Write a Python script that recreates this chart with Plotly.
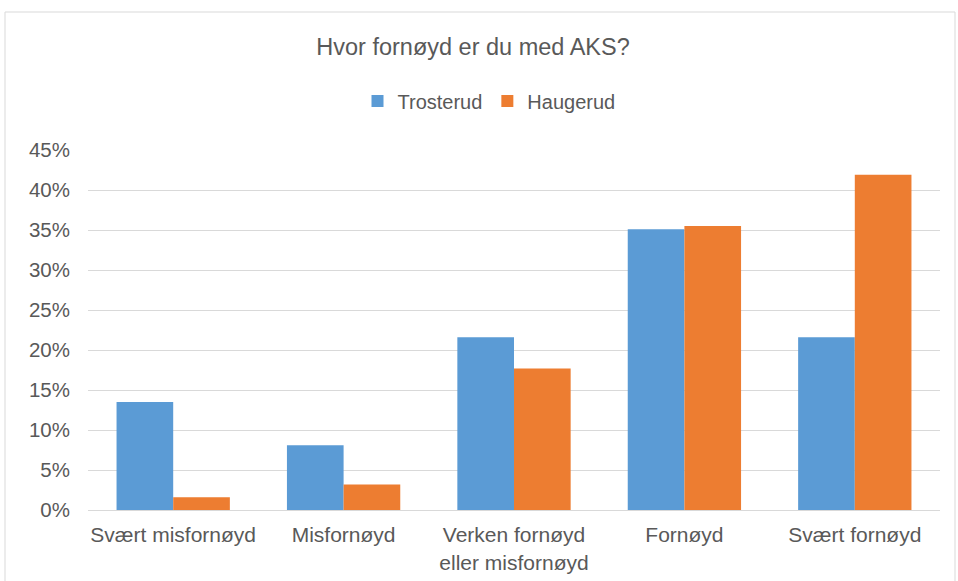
import plotly.graph_objects as go

categories = ["Svært misfornøyd", "Misfornøyd", "Verken fornøyd<br>eller misfornøyd", "Fornøyd", "Svært fornøyd"]
trosterud = [0.135, 0.081, 0.216, 0.351, 0.216]
haugerud = [0.016, 0.032, 0.177, 0.355, 0.419]
series_names = ["Trosterud", "Haugerud"]
colors = ["#5B9BD5", "#ED7D31"]

W, H = 958, 581
L, R, T, B = 88, 18, 150, 71
pw, ph = W - L - R, H - T - B

fig = go.Figure()
for name, vals, c in zip(series_names, [trosterud, haugerud], colors):
    fig.add_trace(go.Bar(x=categories, y=vals, name=name, marker=dict(color=c, line=dict(width=0))))

def px(x):
    return (x - L) / pw

def py(y):
    return (H - B - y) / ph

fig.update_layout(
    width=W, height=H,
    margin=dict(l=L, r=R, t=T, b=B, autoexpand=False),
    paper_bgcolor="white", plot_bgcolor="white",
    font=dict(family="Liberation Sans, Arial, sans-serif", size=20, color="#595959"),
    barmode="group", bargap=0.335, bargroupgap=0,
    title=dict(text="Hvor fornøyd er du med AKS?", x=473 / W, xanchor="center", xref="container",
               y=1 - 47 / H, yanchor="middle", yref="container",
               font=dict(size=23.5, color="#595959")),
    legend=dict(orientation="h", x=px(489), xanchor="center", y=py(101), yanchor="middle",
                font=dict(size=20, color="#595959"), itemwidth=30, traceorder="normal"),
    yaxis=dict(range=[0, 0.45], dtick=0.05, tickformat=".0%", showgrid=True,
               gridcolor="#d9d9d9", gridwidth=1, zeroline=False, showline=False,
               automargin=False,
               ticklabelstandoff=17, tickfont=dict(size=20.5, color="#595959")),
    xaxis=dict(showline=True, linecolor="#d9d9d9", linewidth=1, ticks="",
               automargin=False,
               ticklabelstandoff=6, tickfont=dict(size=21, color="#595959")),
    shapes=[dict(type="rect", xref="paper", yref="paper",
                 x0=px(5), x1=px(955), y0=py(590), y1=py(12),
                 line=dict(color="#d9d9d9", width=1), fillcolor="rgba(0,0,0,0)", layer="below")],
)

fig.write_html("out.html", config={"displayModeBar": False},
               post_script="document.body.style.margin='0';")
